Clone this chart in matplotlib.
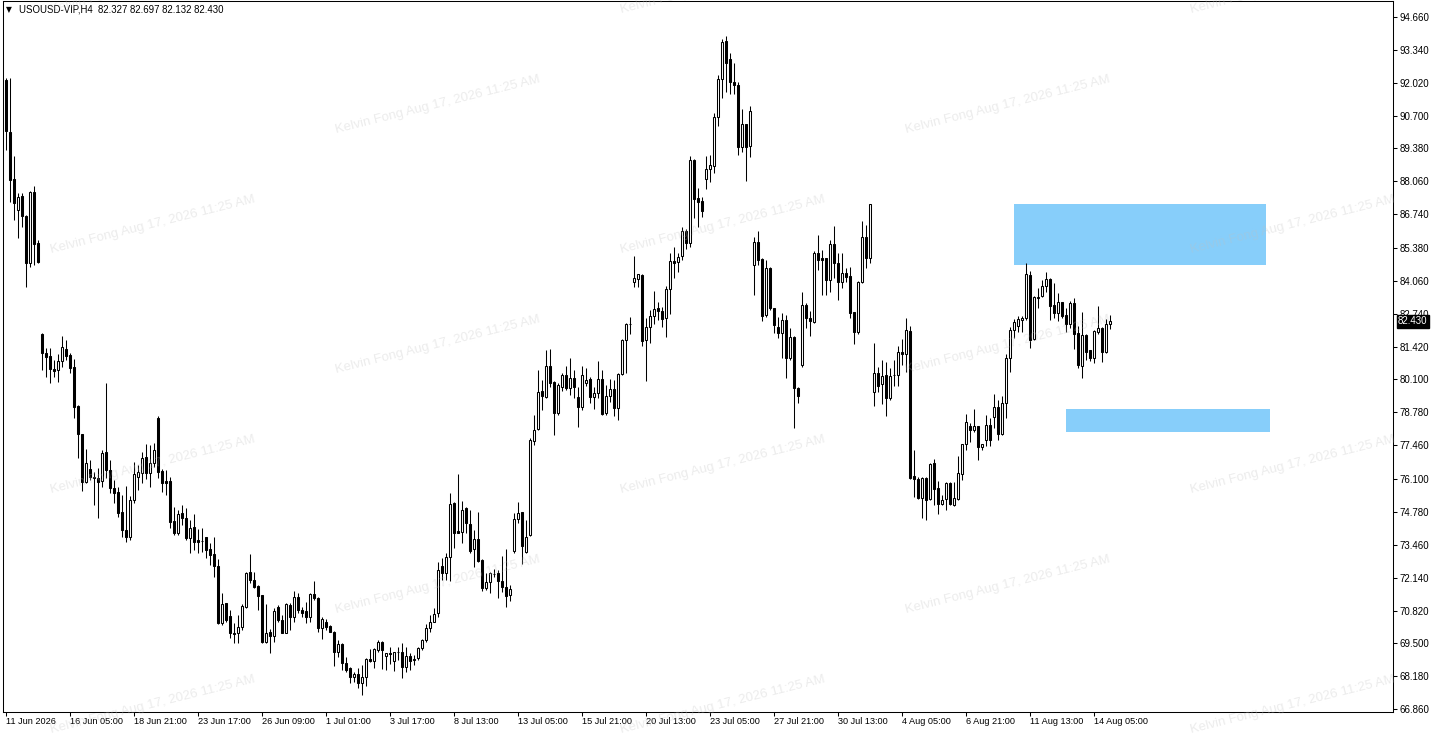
import numpy as np
import matplotlib

matplotlib.use("Agg")
import matplotlib.pyplot as plt
from matplotlib.patches import Rectangle
from matplotlib.transforms import blended_transform_factory, ScaledTranslation

# H4 candles, USOUSD-VIP
OPEN = [
    92.13, 90.04, 88.15, 86.91, 87.47, 86.67, 84.78, 87.63, 85.58, 81.93,
    81.16, 81.04, 80.52, 80.48, 80.84, 81.32, 81.08, 80.60, 79.03, 77.91,
    75.98, 76.50, 76.18, 76.14, 76.02, 77.19, 76.46, 75.74, 75.58, 74.78,
    74.05, 73.77, 75.26, 76.18, 76.34, 76.98, 76.34, 76.74, 78.55, 76.42,
    76.02, 76.02, 74.41, 73.93, 74.74, 74.54, 73.73, 74.17, 73.65, 73.61,
    73.77, 73.29, 73.09, 72.61, 70.32, 71.12, 70.60, 69.92, 69.92, 70.16,
    70.96, 72.37, 72.05, 71.80, 71.44, 69.55, 69.96, 69.80, 70.96, 70.44,
    69.92, 71.04, 70.56, 71.36, 70.84, 70.80, 70.56, 71.48, 71.32, 70.12,
    70.36, 70.20, 69.96, 69.15, 69.47, 68.71, 68.51, 68.15, 68.27, 67.91,
    68.15, 68.87, 68.79, 69.23, 69.55, 68.99, 69.11, 68.79, 69.15, 69.15,
    68.55, 68.99, 68.83, 68.91, 69.31, 69.63, 70.12, 70.36, 70.72, 72.61,
    72.33, 72.97, 75.14, 74.01, 73.97, 74.94, 74.29, 73.29, 73.69, 72.85,
    71.72, 71.96, 72.29, 72.33, 72.00, 71.76, 71.44, 73.21, 74.49, 74.78,
    73.17, 73.85, 77.63, 78.11, 79.64, 79.39, 80.64, 80.00, 78.75, 79.80,
    80.28, 79.76, 80.16, 79.39, 78.99, 79.96, 80.12, 79.39, 79.56, 80.12,
    78.75, 79.44, 79.72, 78.95, 80.32, 81.68, 82.33, 84.02, 84.14, 84.30,
    81.68, 82.21, 82.65, 82.97, 82.85, 82.57, 83.73, 84.86, 84.82, 85.06,
    86.06, 85.58, 88.92, 87.39, 87.27, 88.15, 88.55, 88.67, 90.64, 92.17,
    93.70, 92.97, 92.05, 91.93, 89.44, 90.36, 89.48, 84.70, 85.62, 84.94,
    82.69, 84.58, 82.97, 82.21, 81.97, 82.49, 80.96, 81.81, 79.76, 80.68,
    83.09, 82.57, 82.41, 85.18, 84.98, 84.98, 84.09, 85.54, 84.78, 84.02,
    84.38, 84.26, 82.81, 82.01, 84.02, 85.82, 84.98, 79.60, 80.36, 79.92,
    80.28, 79.35, 80.28, 80.28, 81.20, 81.12, 82.05, 76.22, 76.10, 75.34,
    76.14, 75.30, 76.74, 75.74, 75.10, 75.30, 75.94, 75.06, 75.30, 76.30,
    77.51, 78.23, 78.07, 78.23, 77.39, 77.67, 78.27, 78.59, 78.99, 77.91,
    79.15, 80.96, 82.09, 82.25, 82.49, 82.57, 84.30, 81.72, 83.37, 83.45,
    83.85, 84.14, 83.09, 82.77, 83.21, 82.69, 82.33, 83.17, 81.97, 80.64,
    81.89, 81.28, 80.96, 82.01, 82.17, 81.20, 82.327,
]
HIGH = [
    92.21, 92.21, 89.08, 87.59, 87.59, 86.70, 87.67, 87.87, 85.70, 81.96,
    81.36, 81.36, 80.88, 81.12, 81.85, 81.68, 81.16, 80.92, 79.07, 77.93,
    77.31, 76.86, 76.38, 76.54, 77.27, 79.96, 76.86, 76.06, 75.78, 75.46,
    75.82, 75.42, 76.78, 76.66, 77.19, 77.51, 77.47, 77.55, 78.63, 76.50,
    76.46, 76.18, 74.98, 74.86, 75.06, 74.94, 74.45, 74.69, 74.09, 74.13,
    73.79, 73.53, 73.77, 72.89, 71.52, 71.14, 70.84, 70.32, 70.64, 71.08,
    72.37, 73.09, 72.37, 71.84, 71.46, 71.08, 70.08, 70.92, 71.04, 70.64,
    71.12, 71.12, 71.60, 71.52, 70.96, 71.16, 71.52, 72.00, 71.36, 70.56,
    70.48, 70.24, 69.98, 69.63, 69.51, 68.95, 68.55, 68.35, 68.51, 68.63,
    68.91, 69.27, 69.31, 69.63, 69.59, 69.11, 69.35, 69.15, 69.35, 69.51,
    69.35, 69.11, 69.03, 69.35, 69.67, 70.28, 70.64, 70.92, 72.77, 72.93,
    73.13, 75.54, 75.18, 76.30, 75.22, 74.98, 74.86, 74.05, 74.78, 72.87,
    72.33, 72.37, 72.49, 72.45, 73.01, 73.29, 71.84, 74.73, 75.18, 74.78,
    74.45, 77.75, 78.67, 80.48, 80.08, 81.28, 81.32, 80.04, 79.96, 80.36,
    80.64, 80.96, 80.48, 79.80, 80.64, 80.56, 80.20, 79.80, 80.84, 80.48,
    79.88, 80.12, 80.08, 80.36, 81.72, 82.37, 82.61, 85.06, 84.35, 84.35,
    82.57, 82.89, 83.65, 83.21, 83.01, 83.85, 85.18, 85.42, 85.18, 86.23,
    86.14, 89.08, 88.94, 87.79, 87.43, 89.08, 89.12, 90.80, 92.33, 93.78,
    93.90, 93.21, 92.81, 92.05, 90.96, 90.38, 91.08, 85.82, 86.06, 84.96,
    84.90, 84.62, 82.99, 82.61, 82.77, 82.69, 82.17, 81.85, 79.80, 83.61,
    83.17, 82.85, 85.26, 85.90, 85.30, 84.98, 85.70, 86.26, 85.18, 85.18,
    84.58, 84.62, 82.83, 84.06, 86.46, 86.30, 87.15, 81.56, 80.60, 80.88,
    80.80, 80.56, 80.88, 81.44, 81.72, 82.57, 82.25, 77.27, 76.18, 76.18,
    76.18, 76.74, 76.90, 76.02, 75.46, 75.98, 75.98, 75.98, 77.03, 77.51,
    78.71, 78.35, 78.91, 78.25, 77.51, 78.67, 78.55, 79.52, 79.28, 79.43,
    81.12, 82.21, 82.53, 82.65, 82.65, 84.78, 84.46, 83.45, 83.77, 84.09,
    84.42, 84.18, 83.97, 83.57, 83.23, 82.97, 83.25, 83.37, 82.25, 82.81,
    81.91, 81.30, 82.09, 83.05, 82.21, 82.53, 82.697,
]
LOW = [
    89.32, 87.23, 86.51, 85.78, 86.23, 83.81, 84.62, 84.70, 84.78, 80.48,
    80.20, 79.96, 80.20, 80.00, 80.60, 80.88, 80.36, 78.55, 76.94, 75.62,
    75.94, 76.06, 75.06, 74.54, 75.78, 76.14, 75.54, 75.14, 74.57, 73.77,
    73.57, 73.65, 75.14, 75.66, 75.94, 76.10, 75.78, 76.58, 76.14, 75.58,
    75.46, 74.13, 73.85, 73.85, 74.25, 73.65, 73.13, 73.25, 73.13, 73.17,
    72.93, 72.65, 72.17, 70.28, 70.24, 70.36, 69.71, 69.51, 69.51, 70.04,
    70.92, 71.92, 71.72, 70.84, 69.51, 69.51, 69.11, 69.55, 70.36, 69.92,
    69.90, 70.04, 70.36, 70.72, 70.56, 70.32, 70.36, 71.24, 69.96, 69.67,
    70.04, 69.95, 68.59, 68.95, 68.43, 68.35, 67.91, 67.95, 67.70, 67.42,
    67.79, 68.75, 68.51, 69.15, 68.47, 68.43, 68.67, 68.39, 68.83, 68.11,
    68.35, 68.43, 68.63, 68.83, 69.23, 69.55, 69.96, 70.36, 70.56, 72.05,
    72.05, 72.00, 73.33, 73.92, 73.53, 73.93, 73.13, 72.57, 72.77, 71.60,
    71.64, 71.52, 72.17, 71.32, 71.56, 70.96, 71.20, 73.13, 74.33, 72.69,
    73.13, 73.81, 77.47, 78.07, 78.87, 79.35, 79.80, 77.87, 78.67, 79.64,
    79.68, 79.47, 79.35, 78.19, 78.87, 79.84, 79.15, 78.91, 79.35, 78.67,
    78.67, 79.19, 78.63, 78.47, 80.28, 80.36, 81.93, 83.81, 83.81, 81.44,
    80.04, 81.56, 82.33, 82.49, 82.21, 81.81, 82.73, 84.18, 84.42, 84.90,
    85.34, 85.42, 86.59, 86.23, 86.63, 87.75, 88.03, 88.39, 90.28, 91.41,
    91.65, 91.57, 91.57, 89.12, 89.24, 88.07, 89.04, 83.49, 84.70, 82.45,
    82.61, 82.89, 81.97, 81.77, 80.96, 80.16, 80.88, 78.15, 79.15, 80.60,
    82.17, 81.85, 82.37, 84.50, 83.49, 83.49, 83.61, 84.18, 83.29, 83.77,
    84.02, 82.57, 81.52, 81.93, 83.97, 84.58, 84.78, 79.03, 79.60, 79.11,
    78.63, 79.28, 79.84, 79.84, 80.68, 80.40, 76.12, 75.38, 75.30, 74.53,
    74.45, 75.26, 75.06, 74.69, 75.06, 74.86, 75.06, 75.02, 75.26, 76.06,
    77.27, 77.59, 77.99, 76.86, 77.27, 77.43, 77.43, 78.15, 77.67, 77.87,
    78.55, 80.40, 81.77, 82.01, 82.01, 82.49, 81.36, 81.68, 82.97, 83.41,
    83.61, 82.49, 82.57, 82.45, 82.57, 82.01, 82.17, 81.32, 80.56, 80.16,
    80.88, 80.84, 80.76, 81.93, 80.80, 81.16, 82.132,
]
CLOSE = [
    90.08, 88.11, 87.19, 87.43, 86.67, 84.78, 87.63, 85.54, 84.82, 81.16,
    81.00, 80.52, 80.44, 80.84, 81.40, 81.04, 80.56, 78.99, 77.91, 75.98,
    76.74, 76.18, 76.14, 75.98, 77.15, 76.46, 75.74, 75.54, 74.74, 74.05,
    73.77, 75.26, 76.30, 76.38, 76.94, 76.34, 76.74, 77.27, 76.38, 75.94,
    75.94, 74.37, 73.93, 74.69, 74.54, 73.73, 74.13, 73.57, 73.57, 73.60,
    73.25, 73.05, 72.61, 70.32, 71.08, 70.44, 69.92, 69.88, 70.16, 71.00,
    72.33, 72.05, 71.76, 71.40, 69.55, 69.92, 69.80, 70.80, 70.44, 69.92,
    71.08, 70.56, 71.36, 70.84, 70.72, 70.56, 71.48, 71.32, 70.12, 70.48,
    70.16, 69.96, 69.15, 69.47, 68.71, 68.43, 68.15, 68.27, 67.91, 68.15,
    68.87, 68.79, 69.27, 69.55, 69.23, 69.11, 69.07, 69.15, 69.14, 68.55,
    68.99, 68.79, 68.87, 69.31, 69.63, 70.12, 70.36, 70.68, 72.45, 72.33,
    72.97, 75.10, 73.93, 73.93, 74.86, 74.33, 73.21, 73.69, 72.81, 71.72,
    71.96, 72.33, 72.28, 72.00, 71.76, 71.40, 71.68, 74.49, 74.73, 73.41,
    73.77, 77.67, 78.07, 79.60, 79.44, 80.64, 79.96, 78.75, 79.88, 80.28,
    79.76, 80.16, 79.80, 78.99, 80.28, 80.08, 79.39, 79.56, 80.12, 78.71,
    79.44, 79.72, 78.95, 80.32, 81.68, 82.33, 82.32, 84.18, 84.35, 81.64,
    82.21, 82.65, 82.93, 82.85, 82.53, 83.73, 84.86, 84.78, 85.02, 86.06,
    85.58, 88.92, 87.35, 87.23, 86.87, 88.55, 88.71, 90.64, 92.17, 93.66,
    92.81, 92.05, 91.93, 89.44, 90.36, 89.44, 90.88, 85.62, 84.90, 82.65,
    84.58, 82.97, 82.29, 81.97, 82.49, 80.96, 81.81, 79.76, 79.44, 83.09,
    82.57, 82.45, 85.18, 84.90, 84.90, 84.09, 85.54, 84.78, 84.02, 84.38,
    84.22, 82.77, 82.01, 84.02, 85.82, 84.98, 87.13, 80.36, 79.84, 80.24,
    79.35, 80.24, 80.27, 81.20, 81.12, 82.09, 76.14, 76.10, 75.34, 76.14,
    75.26, 76.72, 75.70, 75.10, 75.26, 75.94, 75.10, 75.34, 76.34, 77.49,
    78.39, 78.07, 78.23, 77.39, 77.50, 78.27, 77.67, 78.99, 77.91, 79.15,
    80.96, 82.09, 82.41, 82.53, 82.57, 84.34, 81.68, 83.41, 83.41, 83.85,
    84.14, 83.05, 82.77, 83.21, 82.65, 82.33, 83.17, 81.93, 80.68, 81.89,
    81.20, 80.96, 82.05, 82.17, 81.20, 82.33, 82.430,
]

TIME_LABELS = [
    "11 Jun 2026", "16 Jun 05:00", "18 Jun 21:00", "23 Jun 17:00",
    "26 Jun 09:00", "1 Jul 01:00", "3 Jul 17:00", "8 Jul 13:00",
    "13 Jul 05:00", "15 Jul 21:00", "20 Jul 13:00", "23 Jul 05:00",
    "27 Jul 21:00", "30 Jul 13:00", "4 Aug 05:00", "6 Aug 21:00",
    "11 Aug 13:00", "14 Aug 05:00",
]
TIME_LABEL_STEP = 16

PRICE_LABELS = [
    "94.660", "93.340", "92.020", "90.700", "89.380", "88.060", "86.740",
    "85.380", "84.060", "82.740", "81.420", "80.100", "78.780", "77.460",
    "76.100", "74.780", "73.460", "72.140", "70.820", "69.500", "68.180",
    "66.860",
]

SYMBOL = "USOUSD-VIP,H4"
LAST_PRICE = 82.430

# supply / demand boxes: bar index span and price span
ZONE_START = [252, 265]
ZONE_END = [315, 316]
ZONE_LOW = [84.69, 77.99]
ZONE_HIGH = [87.14, 78.91]
ZONE_COLOR = "#87CEFA"

WATERMARK = "Kelvin Fong Aug 17, 2026 11:25 AM"

W, H = 1439, 733


def main():
    plt.rcParams["font.family"] = ["Liberation Sans", "DejaVu Sans"]

    o = np.array(OPEN)
    h = np.array(HIGH)
    l = np.array(LOW)
    c = np.array(CLOSE)
    n = min(len(o), len(h), len(l), len(c))
    o, h, l, c = o[:n], h[:n], l[:n], c[:n]
    x = np.arange(n)

    fig = plt.figure(figsize=(W / 100, H / 100), dpi=100)
    fig.patch.set_facecolor("white")
    # plot box in pixels: x 3..1393, y 1..712
    ax = fig.add_axes([3 / W, (H - 712) / H, 1390 / W, 711 / H])
    ax.set_facecolor("white")

    ax.set_xlim(-0.625, 346.875)
    ax.set_ylim(66.743, 95.303)

    for x0, x1, y0, y1 in zip(ZONE_START, ZONE_END, ZONE_LOW, ZONE_HIGH):
        ax.add_patch(Rectangle((x0, y0), x1 - x0, y1 - y0, facecolor=ZONE_COLOR,
                               edgecolor="none", zorder=1))

    ax.vlines(x, l, h, color="black", lw=0.75, zorder=2)
    up = c >= o
    ax.bar(x[up], (c - o)[up], bottom=o[up], width=0.5, facecolor="white",
           edgecolor="black", lw=0.75, zorder=3)
    ax.bar(x[~up], (o - c)[~up], bottom=c[~up], width=0.5, facecolor="black",
           edgecolor="black", lw=0.75, zorder=3)

    for s in ax.spines.values():
        s.set_color("black")
        s.set_linewidth(0.75)

    ax.yaxis.tick_right()
    ax.set_yticks([float(v) for v in PRICE_LABELS])
    ax.set_yticklabels(PRICE_LABELS)
    ax.tick_params(axis="y", direction="out", length=3, width=0.75, pad=2,
                   labelsize=7, colors="black")

    ticks = list(range(0, n, TIME_LABEL_STEP))[: len(TIME_LABELS)]
    ax.set_xticks(ticks)
    ax.set_xticklabels(TIME_LABELS[: len(ticks)])
    ax.tick_params(axis="x", direction="out", length=3, width=0.75, pad=0.5,
                   labelsize=6.6, colors="black")
    shift = ScaledTranslation(1 / 100, 0, fig.dpi_scale_trans)
    for lbl in ax.get_xticklabels():
        lbl.set_horizontalalignment("left")
        lbl.set_transform(lbl.get_transform() + shift)

    # current price tag on the scale
    tr = blended_transform_factory(ax.transAxes, ax.transData)
    ax.text(1.0035, LAST_PRICE, f"{LAST_PRICE:.3f}", transform=tr, ha="left",
            va="center", fontsize=7, color="white", zorder=10, clip_on=False,
            bbox=dict(boxstyle="square,pad=0.12", facecolor="black",
                      edgecolor="black"))

    header = f"{SYMBOL}  {o[-1]:.3f} {h[-1]:.3f} {l[-1]:.3f} {c[-1]:.3f}"
    fig.text(6 / W, 1 - 10 / H, "\u25bc", fontsize=5.5, family="DejaVu Sans",
             va="center", ha="left")
    fig.text(19 / W, 1 - 10 / H, header, fontsize=6.9, va="center", ha="left")

    # watermark grid
    for cx in (153, 723, 1293):
        for cy in (-15, 225, 465, 705):
            fig.text(cx / W, 1 - cy / H, WATERMARK, rotation=14, ha="center",
                     va="center", rotation_mode="anchor", fontsize=9.5,
                     color="#c0c0c0", alpha=0.3, zorder=20)
    for cx in (438, 1008):
        for cy in (105, 345, 585):
            fig.text(cx / W, 1 - cy / H, WATERMARK, rotation=14, ha="center",
                     va="center", rotation_mode="anchor", fontsize=9.5,
                     color="#c0c0c0", alpha=0.3, zorder=20)

    fig.savefig("out.png", dpi=100, facecolor="white")


if __name__ == "__main__":
    main()
